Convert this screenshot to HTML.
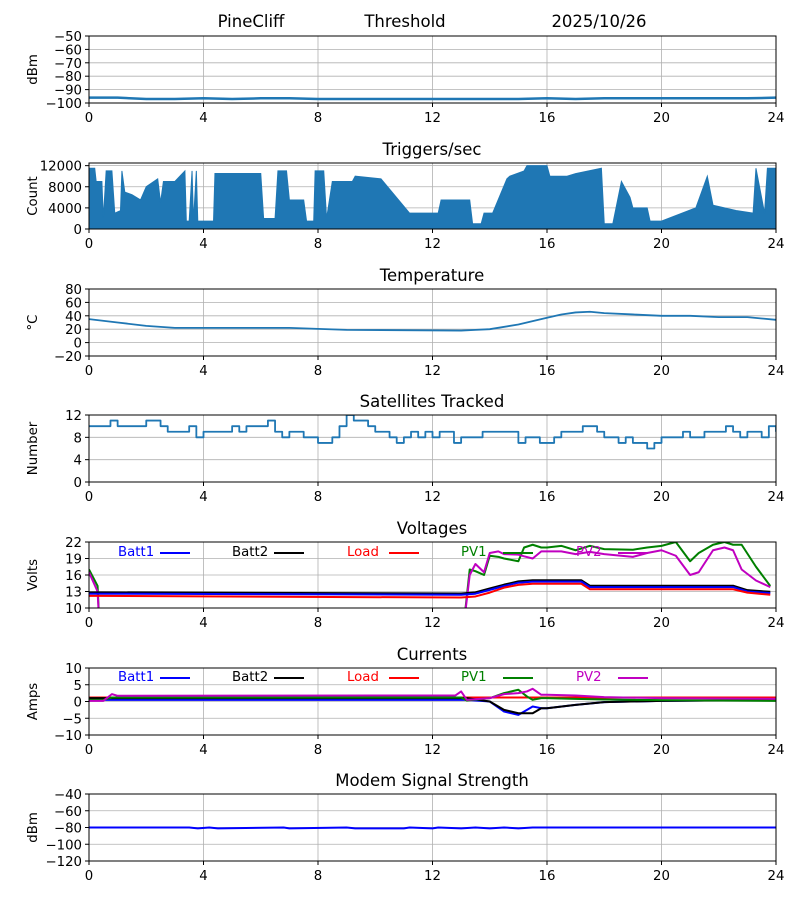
<!DOCTYPE html>
<html><head><meta charset="utf-8"><style>
body{margin:0;background:#fff}
svg{font-family:"DejaVu Sans","Liberation Sans",sans-serif;font-size:13.3px}
</style></head><body>
<svg id="fig" width="800" height="900" xmlns="http://www.w3.org/2000/svg"></svg>
<script>
const hours=[0,4,8,12,16,20,24];
const noiseT=[0,1,2,3,4,5,6,7,8,9,10,11,12,13,14,15,16,17,18,19,20,21,22,23,24];
const noiseV=[-96,-96,-97,-97,-96.5,-97,-96.5,-96.5,-97,-97,-97,-97,-97,-97,-97,-97,-96.5,-97,-96.5,-96.5,-96.5,-96.5,-96.5,-96.5,-96];
const trigT=[0,0.2,0.25,0.45,0.5,0.6,0.8,0.9,1.1,1.15,1.25,1.5,1.8,2.0,2.4,2.5,2.6,3.0,3.35,3.4,3.5,3.6,3.65,3.75,3.8,3.9,4.35,4.4,6.0,6.1,6.5,6.6,6.8,6.9,7.0,7.5,7.6,7.85,7.9,8.2,8.3,8.5,9.2,9.3,10.2,11.2,12.2,12.3,13.3,13.4,13.7,13.8,14.1,14.6,14.7,15.2,15.3,15.6,15.7,16.0,16.1,16.6,16.7,17.0,17.9,18.0,18.3,18.6,18.9,19.0,19.5,19.6,20.0,21.2,21.6,21.8,22.6,23.2,23.3,23.6,23.7,24];
const trigV=[11500,11500,9000,9000,2000,11000,11000,3000,3500,11000,7000,6500,5500,8000,9500,5000,9000,9000,11000,1500,1500,11000,1500,11000,1500,1500,1500,10500,10500,2000,2000,11000,11000,11000,5500,5500,1500,1500,11000,11000,2000,9000,9000,10000,9500,3000,3000,5500,5500,1000,1000,3000,3000,9500,10000,11000,12000,12000,12000,12000,10000,10000,10000,10500,11500,1000,1000,9000,6000,4000,4000,1500,1500,4000,10000,4500,3500,3000,11500,3000,11500,11500];
const tempT=[0,1,2,3,4,7,9,13,13.5,14,15,16,16.5,17,17.5,18,19,20,21,22,23,24];
const tempV=[35,30,25,22,22,22,19,18,19,20,27,37,42,45,46,44,42,40,40,38,38,34];
const satT=[];for(let i=0;i<=96;i++)satT.push(i*0.25);
const satV=[10,10,10,11,10,10,10,10,11,11,10,9,9,9,10,8,9,9,9,9,10,9,10,10,10,11,9,8,9,9,8,8,7,7,8,10,12,11,11,10,9,9,8,7,8,9,8,9,8,9,9,7,8,8,8,9,9,9,9,9,7,8,8,7,7,8,9,9,9,10,10,9,8,8,7,8,7,7,6,7,8,8,8,9,8,8,9,9,9,10,9,8,9,9,8,10,9];
const vT=[0,0.3,0.35,13,13.5,14,14.5,15,15.5,17.2,17.5,22.5,23,23.8];
const batt2V=[12.8,12.8,12.8,12.6,12.8,13.5,14.2,14.8,15,15,14,14,13.2,12.9];
const batt1V=[12.6,12.6,12.6,12.4,12.6,13.3,14,14.6,14.8,14.8,13.8,13.8,13,12.7];
const loadV=[12.2,12.2,12.2,11.9,12.1,12.8,13.7,14.2,14.4,14.4,13.4,13.4,12.8,12.4];
const pvT=[0,0.3,0.38,13.05,13.3,13.5,13.8,14,14.3,14.5,15,15.2,15.5,15.8,16,16.5,17,17.5,18,19,19.5,20,20.5,21,21.3,21.8,22.2,22.5,22.8,23.3,23.8];
const pv1V=[17,14,5,5,17,16.7,16,19.5,19.3,19,18.5,21,21.5,21,21,21.3,20.5,21.3,20.7,20.6,21,21.3,22,18.5,20,21.5,22,21.5,21.5,17.5,14];
const pv2V=[16.5,13,5,5,16,18,16.5,20,20.3,19.8,19.7,19.4,19,20.3,20.3,20.3,19.8,20.2,19.8,19.3,20,20.5,19.5,16,16.5,20.5,21,20.5,17,15,13.8];
const cT=[0,0.5,0.8,1,12.8,13,13.2,14,14.5,15,15.3,15.5,15.8,16,17,18,20,24];
const cLoad=[1.2,1.2,1.2,1.2,1.2,1.2,1.2,1.2,1.2,1.2,1.2,1.2,1.2,1.2,1.2,1.2,1.2,1.2];
const cBatt2=[1,1,1,1,1,1,1,0,-2.5,-3.5,-3.5,-3.5,-2,-2,-1,-0.2,0.2,0.5];
const cBatt1=[0.5,0.5,0.5,0.5,0.5,0.5,0.5,0,-3,-4,-2.5,-1.5,-2,-2,-1,-0.2,0.2,0.5];
const cPV1=[0.5,0.5,1.2,1.2,1.2,1.2,0.3,1,2.5,3.5,1.5,0.5,1,1,0.8,0.6,0.4,0.2];
const cPV2=[0.2,0.2,2.2,1.7,1.8,3,0.5,1,2.2,2.5,3,3.8,2,2,1.8,1.3,1,0.8];
const modT=[0,3.5,3.8,4.2,4.5,6.8,7,9,9.3,11,11.2,12,12.2,13,13.5,14,14.5,15,15.5,24];
const modV=[-80,-80,-81,-80,-81,-80,-81,-80,-81,-81,-80,-81,-80,-81,-80,-81,-80,-81,-80,-80];

const S=document.getElementById('fig');const NS='http://www.w3.org/2000/svg';
function mk(t,a,p){const e=document.createElementNS(NS,t);for(const k in a)e.setAttribute(k,a[k]);(p||S).appendChild(e);return e;}
const L=89,R=776;
const X=t=>L+(R-L)*t/24;
function panel(name,top,bot,ymin,ymax,yticks,ylabel,title){
  const g=mk('g',{});
  
  
  const Y=v=>bot-(bot-top)*(v-ymin)/(ymax-ymin);
  hours.forEach(h=>{mk('line',{x1:X(h),x2:X(h),y1:top,y2:bot,stroke:'#b0b0b0','stroke-width':0.8},g);
    const t=mk('text',{x:X(h),y:bot+19,'text-anchor':'middle'},g);t.textContent=h;
    mk('line',{x1:X(h),x2:X(h),y1:bot,y2:bot+4,stroke:'#000'},g);});
  yticks.forEach(v=>{mk('line',{x1:L,x2:R,y1:Y(v),y2:Y(v),stroke:'#b0b0b0','stroke-width':0.8},g);
    mk('line',{x1:L-4,x2:L,y1:Y(v),y2:Y(v),stroke:'#000'},g);
    const t=mk('text',{x:L-7,y:Y(v)+5,'text-anchor':'end'},g);t.textContent=String(v).replace('-','\u2212');});
  const yl=mk('text',{x:0,y:0,'text-anchor':'middle',transform:`translate(${L-52+(ylabel.length<5&&ymin>=0?8:0)},${(top+bot)/2}) rotate(-90)`},g);yl.textContent=ylabel;
  
  
  if(title){const tt=mk('text',{x:432,y:top-8,'text-anchor':'middle','font-size':'16.5px'},g);tt.textContent=title;
    
    }
  const clip=mk('clipPath',{id:'c'+name},g);mk('rect',{x:L,y:top,width:R-L,height:bot-top},clip);
  const plot=mk('g',{'clip-path':`url(#c${name})`},g);
  return {g,Y,plot,top,bot};
}
function frame(p){mk('rect',{x:L,y:p.top,width:R-L,height:p.bot-p.top,fill:'none',stroke:'#000','stroke-width':1},p.g);}
function line(p,ts,vs,col,w,step,name){
  let d='';ts.forEach((t,i)=>{if(i==0)d+=`M${X(t)},${p.Y(vs[i])}`;else{if(step)d+=`L${X(t)},${p.Y(vs[i-1])}`;d+=`L${X(t)},${p.Y(vs[i])}`;}});
  const e=mk('path',{d,fill:'none',stroke:col,'stroke-width':w,'stroke-linejoin':'round'},p.plot);
  
  
}
function legend(p,y){
  const items=[['Batt1','#0000ff',118],['Batt2','#000',232],['Load','#ff0000',347],['PV1','#008000',461],['PV2','#c000c0',576]];
  items.forEach(([n,c,x])=>{const t=mk('text',{x,y,fill:c},p.g);t.textContent=n;
    
    
    mk('line',{x1:x+42,x2:x+72,y1:y-3,y2:y-3,stroke:c,'stroke-width':2},p.g);});
}
[['PineCliff',251],['Threshold',405],['2025/10/26',599]].forEach(([s,x])=>{const t=mk('text',{x,y:27,'text-anchor':'middle','font-size':'16.5px'});t.textContent=s;
  
  });
const C='#1f77b4';
let p=panel('noise',36,103,-100,-50,[-50,-60,-70,-80,-90,-100],'dBm',null);
line(p,noiseT,noiseV,C,2.5,false,'noise-line');frame(p);
p=panel('triggers',163,229,0,12500,[0,4000,8000,12000],'Count','Triggers/sec');
{let d=`M${X(trigT[0])},${p.Y(0)}`;trigT.forEach((t,i)=>d+=`L${X(t)},${p.Y(trigV[i])}`);d+=`L${X(24)},${p.Y(0)}Z`;
 const e=mk('path',{d,fill:C,stroke:C,'stroke-width':1},p.plot);
 
 }
frame(p);
p=panel('temperature',289,356,-20,80,[-20,0,20,40,60,80],'\u00B0C','Temperature');
line(p,tempT,tempV,C,1.8,false,'temperature-line');frame(p);
p=panel('satellites',415,482,0,12,[0,4,8,12],'Number','Satellites Tracked');
line(p,satT,satV,C,1.8,true,'satellites-line');frame(p);
p=panel('voltages',542,608,10,22,[10,13,16,19,22],'Volts','Voltages');
line(p,pvT,pv1V,'#008000',2,false,'pv1-voltage');line(p,pvT,pv2V,'#c000c0',2,false,'pv2-voltage');
line(p,vT,batt2V,'#000',2.5,false,'batt2-voltage');line(p,vT,batt1V,'#0000ff',2,false,'batt1-voltage');line(p,vT,loadV,'#ff0000',2,false,'load-voltage');
legend(p,556);frame(p);
p=panel('currents',668,735,-10,10,[-10,-5,0,5,10],'Amps','Currents');
line(p,cT,cLoad,'#ff0000',2,false,'load-current');line(p,cT,cBatt1,'#0000ff',2,false,'batt1-current');line(p,cT,cBatt2,'#000',2,false,'batt2-current');
line(p,cT,cPV1,'#008000',2,false,'pv1-current');line(p,cT,cPV2,'#c000c0',2,false,'pv2-current');
legend(p,681);frame(p);
p=panel('modem',794,861,-120,-40,[-40,-60,-80,-100,-120],'dBm','Modem Signal Strength');
line(p,modT,modV,'#0000ff',2,false,'modem-line');frame(p);
</script>
</body></html>
